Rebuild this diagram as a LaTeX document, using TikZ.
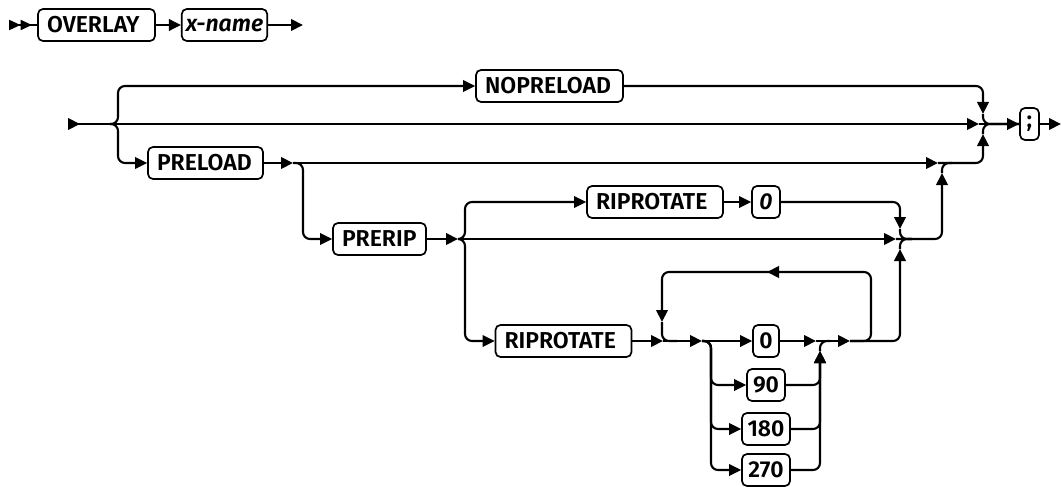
\documentclass[tikz,border=0pt]{standalone}
\usepackage{fontspec}
\newfontfamily\railfont{Fira Sans SemiBold}
\usetikzlibrary{arrows.meta,calc}
\tikzset{
  rail/.style={line width=2.1pt, rounded corners=7pt},
  fwd/.style={-{Triangle[length=12pt,width=11.5pt]}},
  base/.style={draw, line width=1.7pt, rounded corners=5pt, minimum height=32pt, inner ysep=0pt, font=\railfont\fontsize{23}{26}\selectfont},
  kw/.style={base, inner xsep=9pt, text width=#1, align=left},
  var/.style={base, inner xsep=4pt, minimum width=#1, font=\railfont\itshape\fontsize{23}{26}\selectfont},
  num/.style={base, inner xsep=3pt, minimum width=#1},
}

\begin{document}
\begin{tikzpicture}[x=1pt, y=-1pt]
  \useasboundingbox (0,0) rectangle (1061,487);
  % first line
  \node[kw=99pt] (ov) at (96.5,25) {OVERLAY};
  \node[var=81pt] (xn) at (224.5,25) {x-name};
  \coordinate (st0) at (9,25);
  \coordinate (ct0) at (303,25);
  \draw[rail, {Triangle[reversed,length=11.5pt,width=10pt]Triangle[reversed,length=11.5pt,width=10pt]}-] (st0) -- (ov);
  \draw[rail, fwd] (ov) -- (xn);
  \draw[rail, fwd] (xn) -- (ct0);

  % boxes of the second line
  \node[kw=129pt] (np) at (549.5,86) {NOPRELOAD};
  \node[kw=97pt] (pl) at (205.5,163) {PRELOAD};
  \node[kw=75pt] (pr) at (379.5,239) {PRERIP};
  \node[kw=118pt] (ra) at (655,202) {RIPROTATE};
  \node[var=28pt] (za) at (766,202) {0};
  \node[kw=118pt] (rb) at (563.5,341) {RIPROTATE};
  \node[num=26pt] (n0) at (766,341) {0};
  \node[num=38pt] (n90) at (766,385) {90};
  \node[num=48pt] (n180) at (766,429) {180};
  \node[num=48pt] (n270) at (766,470) {270};
  \node[num=19pt] (sc) at (1029.5,124) {;};

  % main line
  \coordinate (st1) at (68,124);
  \coordinate (k1) at (110,124);
  \coordinate (j1) at (118,124);
  \coordinate (m1w) at (979,124);
  \coordinate (m1a) at (983,114);
  \coordinate (m1b) at (983,134);
  \coordinate (ed) at (1061,124);
  \draw[rail, {Triangle[reversed,length=12pt,width=11.5pt]}-{Triangle[length=12pt,width=11.5pt]}] (st1) -- (m1w);
  \draw[rail, fwd] (k1) -| (j1 |- np.west) -- (np.west);
  \draw[rail, fwd] (k1) -| (j1 |- pl.west) -- (pl.west);
  \draw[rail, fwd] (np.east) -| (m1a);
  \draw[rail] (m1a) |- (sc.west);
  \draw[rail] (m1b) |- (sc.west);
  \draw[rail, fwd] (m1w) -- (sc.west);
  \draw[rail, fwd] (sc) -- (ed);

  % PRELOAD
  \coordinate (k2) at (293,163);
  \coordinate (j2) at (303,163);
  \coordinate (m2a) at (938,163);
  \coordinate (m2b) at (942,173);
  \draw[rail, fwd] (pl) -- (k2);
  \draw[rail, fwd] (k2) -- (m2a);
  \draw[rail, fwd] (k2) -| (j2 |- pr.west) -- (pr.west);
  \draw[rail, fwd] (m2a) -| (m1b);
  \draw[rail] (m2b) |- ($(m2a)+(14,0)$);

  % PRERIP
  \coordinate (k3) at (458,239);
  \coordinate (j3) at (465,239);
  \coordinate (m3w) at (896,239);
  \coordinate (m3a) at (900,229);
  \coordinate (m3b) at (900,249);
  \draw[rail, fwd] (pr) -- (k3);
  \draw[rail, fwd] (k3) -- (m3w);
  \draw[rail, fwd] (k3) -| (j3 |- ra.west) -- (ra.west);
  \draw[rail, fwd] (k3) -| (j3 |- rb.west) -- (rb.west);
  \draw[rail, fwd] (ra) -- (za);
  \draw[rail, fwd] (za.east) -| (m3a);
  \draw[rail, fwd] (m3w) -| (m2b);
  \draw[rail] (m3a) |- ($(m3w)+(16,0)$);
  \draw[rail] (m3b) |- ($(m3w)+(16,0)$);

  % RIPROTATE with repeat loop
  \coordinate (k4) at (663,341);
  \coordinate (k5) at (702,341);
  \coordinate (j5) at (711,341);
  \coordinate (m5w) at (816,341);
  \coordinate (m5b) at (820,351);
  \coordinate (k6) at (850,341);
  \coordinate (lt) at (871,272);
  \coordinate (ll) at (662,322);
  \coordinate (la) at (800,272);
  \coordinate (lb) at (767,272);
  \draw[rail, fwd] (rb) -- (k4);
  \draw[rail, fwd] (k4) -- (k5);
  \draw[rail, fwd] (k6) -| (lt) -| (ll);
  \draw[rail, fwd] (la) -- (lb);
  \draw[rail] (ll) |- ($(k4)+(14,0)$);
  \draw[rail, fwd] (k5) -- (n0);
  \foreach \n in {n90,n180,n270}
    \draw[rail, fwd] (k5) -| (j5 |- \n.west) -- (\n.west);
  \draw[rail, fwd] (n0) -- (m5w);
  \foreach \n in {n90,n180,n270}
    \draw[rail, fwd] (\n.east) -| (m5b);
  \draw[rail] (m5b) |- ($(m5w)+(14,0)$);
  \draw[rail, fwd] (m5w) -- (k6);
  \draw[rail, fwd] (k6) -| (m3b);
\end{tikzpicture}
\end{document}
